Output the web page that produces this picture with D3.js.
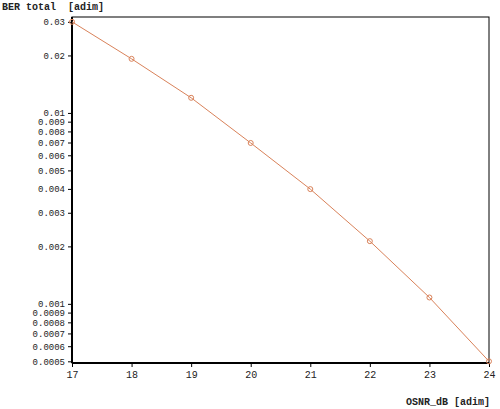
<html>
<head>
  <meta charset="UTF-8">
  <script src="https://d3js.org/d3.v7.min.js"></script>
  <style>
    body { margin: 0; background: #fff; }
    text { font-family: "Liberation Mono", "DejaVu Sans Mono", monospace; font-size: 10px; fill: #222; white-space: pre; }
    .yax text { font-size: 9px; }
  </style>
</head>
<body>
  <svg id="chart" width="500" height="409"></svg>
  <script>
    // OSNR values and total BER
    const osnr = [17, 18, 19, 20, 21, 22, 23, 24];
    const ber = [0.03, 0.0192, 0.012, 0.00696, 0.00399, 0.00213, 0.00108, 0.0005];
    const yTicks = [0.03, 0.02, 0.01, 0.009, 0.008, 0.007, 0.006, 0.005, 0.004, 0.003, 0.002,
      0.001, 0.0009, 0.0008, 0.0007, 0.0006, 0.0005];

    const svg = d3.select("svg#chart");
    const margins = { top: 17, right: 11, bottom: 46, left: 72 };
    const w = 500 - margins.left - margins.right;
    const h = 409 - margins.top - margins.bottom;

    const x = d3.scaleLinear().domain([17, 24]).range([0, w]);
    const y = d3.scaleLog().domain([0.00049, 0.0318]).range([h, 0]);

    const g = svg.append("g").attr("transform", `translate(${margins.left},${margins.top})`);

    // frame
    g.append("rect").attr("width", w).attr("height", h)
      .attr("fill", "none").attr("stroke", "black").attr("stroke-width", 1);
    g.append("line").attr("x1", 0).attr("x2", 0).attr("y1", 0).attr("y2", h)
      .attr("stroke", "black").attr("stroke-width", 2);
    g.append("line").attr("x1", 0).attr("x2", w).attr("y1", h).attr("y2", h)
      .attr("stroke", "black").attr("stroke-width", 2);

    const fmt = d => String(+d.toPrecision(2));

    let leftAxis = d3.axisLeft(y).tickValues(yTicks).tickFormat(fmt).tickSize(4).tickPadding(3);
    g.append("g").attr("class", "yax").call(leftAxis).call(a => a.select(".domain").remove());

    let bottomAxis = d3.axisBottom(x).tickValues(osnr).tickFormat(d3.format("d")).tickSize(4).tickPadding(4);
    g.append("g").attr("transform", `translate(0,${h})`).call(bottomAxis)
      .call(a => a.select(".domain").remove());

    // line and markers
    const pts = osnr.map((d, i) => [d, ber[i]]);
    g.append("path").datum(pts)
      .attr("d", d3.line().x(d => x(d[0])).y(d => y(d[1])))
      .attr("fill", "none").attr("stroke", "#d9825a").attr("stroke-width", 1);
    g.selectAll("circle").data(pts).join("circle")
      .attr("cx", d => x(d[0])).attr("cy", d => y(d[1])).attr("r", 2.5)
      .attr("fill", "none").attr("stroke", "#d9825a").attr("stroke-width", 1);

    // axis titles
    svg.append("text").attr("x", 2).attr("y", 10).style("font-weight", "bold").text("BER total  [adim]");
    svg.append("text").attr("x", 490).attr("y", 405).attr("text-anchor", "end")
      .style("font-weight", "bold").text("OSNR_dB [adim]");
  </script>
</body>
</html>
